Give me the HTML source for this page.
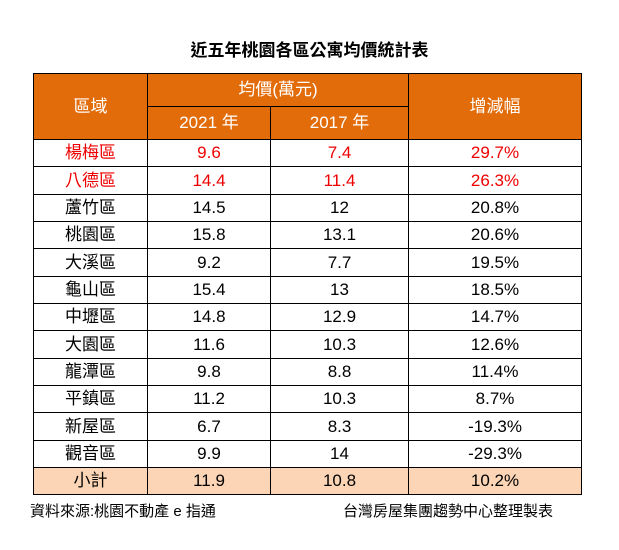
<!DOCTYPE html>
<html><head><meta charset="utf-8"><style>
body{margin:0;width:619px;height:550px;background:#fff;font-family:"Liberation Sans","Noto Sans CJK TC",sans-serif;position:relative;overflow:hidden}
.t{position:absolute;top:36px;left:0;width:619px;text-align:center;font-size:17px;font-weight:bold;color:#000}
table{position:absolute;left:33px;top:73px;border-collapse:collapse;width:548px;table-layout:fixed}
td{border:1px solid #000;text-align:center;font-size:17px;padding:0;line-height:20px;color:#000;height:26.35px}
.h td{background:#E36C0A;color:#fff;height:32px}
.r td{color:#e00}
.s td{background:#FBD5B5}
.f{position:absolute;top:500px;font-size:15px;color:#000}
</style></head><body>
<div class="t">近五年桃園各區公寓均價統計表</div>
<table>
<colgroup><col style="width:114px"><col style="width:123px"><col style="width:138px"><col style="width:173px"></colgroup>
<tr class="h"><td rowspan="2">區域</td><td colspan="2">均價(萬元)</td><td rowspan="2">增減幅</td></tr>
<tr class="h"><td>2021 年</td><td>2017 年</td></tr>
<tr class="r"><td>楊梅區</td><td>9.6</td><td>7.4</td><td>29.7%</td></tr>
<tr class="r"><td>八德區</td><td>14.4</td><td>11.4</td><td>26.3%</td></tr>
<tr><td>蘆竹區</td><td>14.5</td><td>12</td><td>20.8%</td></tr>
<tr><td>桃園區</td><td>15.8</td><td>13.1</td><td>20.6%</td></tr>
<tr><td>大溪區</td><td>9.2</td><td>7.7</td><td>19.5%</td></tr>
<tr><td>龜山區</td><td>15.4</td><td>13</td><td>18.5%</td></tr>
<tr><td>中壢區</td><td>14.8</td><td>12.9</td><td>14.7%</td></tr>
<tr><td>大園區</td><td>11.6</td><td>10.3</td><td>12.6%</td></tr>
<tr><td>龍潭區</td><td>9.8</td><td>8.8</td><td>11.4%</td></tr>
<tr><td>平鎮區</td><td>11.2</td><td>10.3</td><td>8.7%</td></tr>
<tr><td>新屋區</td><td>6.7</td><td>8.3</td><td>-19.3%</td></tr>
<tr><td>觀音區</td><td>9.9</td><td>14</td><td>-29.3%</td></tr>
<tr class="s"><td>小計</td><td>11.9</td><td>10.8</td><td>10.2%</td></tr>
</table>
<div class="f" style="left:30px">資料來源:桃園不動產 e 指通</div>
<div class="f" style="left:343px">台灣房屋集團趨勢中心整理製表</div>
</body></html>
